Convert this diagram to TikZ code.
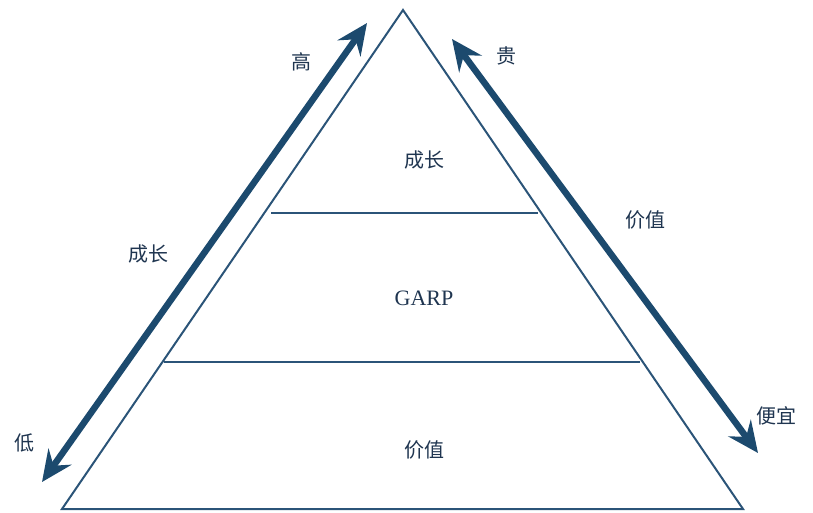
\documentclass[tikz,border=0pt]{standalone}
\usepackage{fontspec}
\setmainfont{Liberation Serif}
\newfontfamily\cjk{Noto Sans CJK SC}
\usetikzlibrary{arrows.meta}
\definecolor{linec}{HTML}{2B5478}
\definecolor{arrc}{HTML}{1C4A6E}
\definecolor{txtc}{HTML}{1F3550}
\tikzset{
  edge/.style={draw=linec, line width=2pt, line join=miter},
  divider/.style={draw=linec, line width=2pt},
  bigarrow/.style={draw=arrc, line width=6.5pt,
    {Stealth[length=31pt,width=28pt,inset=11pt]}-{Stealth[length=31pt,width=28pt,inset=11pt]}},
  lbl/.style={text=txtc, font=\cjk\fontsize{20}{24}\selectfont, inner sep=0pt},
  lat/.style={text=txtc, font=\fontsize{22}{26}\selectfont, inner sep=0pt}
}
\begin{document}
\begin{tikzpicture}[x=1pt,y=-1pt]
\useasboundingbox (0,0) rectangle (813,512);
% triangle
\coordinate (apex) at (403,10);
\coordinate (bl) at (62,509);
\coordinate (br) at (743,509);
\draw[edge] (apex) -- (bl) -- (br) -- cycle;
% dividers
\coordinate (d1l) at (271,213);
\coordinate (d1r) at (538,213);
\coordinate (d2l) at (164,362);
\coordinate (d2r) at (640,362);
\draw[divider] (d1l) -- (d1r);
\draw[divider] (d2l) -- (d2r);
% arrows
\coordinate (la) at (42,482);
\coordinate (lb) at (367,23);
\coordinate (ra) at (452,39);
\coordinate (rb) at (758,453);
\draw[bigarrow] (la) -- (lb);
\draw[bigarrow] (ra) -- (rb);
% inside labels
\node[lbl] (t1) at (424,160) {成长};
\node[lat] (t2) at (424,298) {GARP};
\node[lbl] (t3) at (424,450) {价值};
% outside labels
\node[lbl] (gao) at (301,62) {高};
\node[lbl] (cz) at (148,254) {成长};
\node[lbl] (di) at (24,443) {低};
\node[lbl] (gui) at (506,56) {贵};
\node[lbl] (jz) at (645,220) {价值};
\node[lbl] (py) at (776,416) {便宜};
\end{tikzpicture}
\end{document}
